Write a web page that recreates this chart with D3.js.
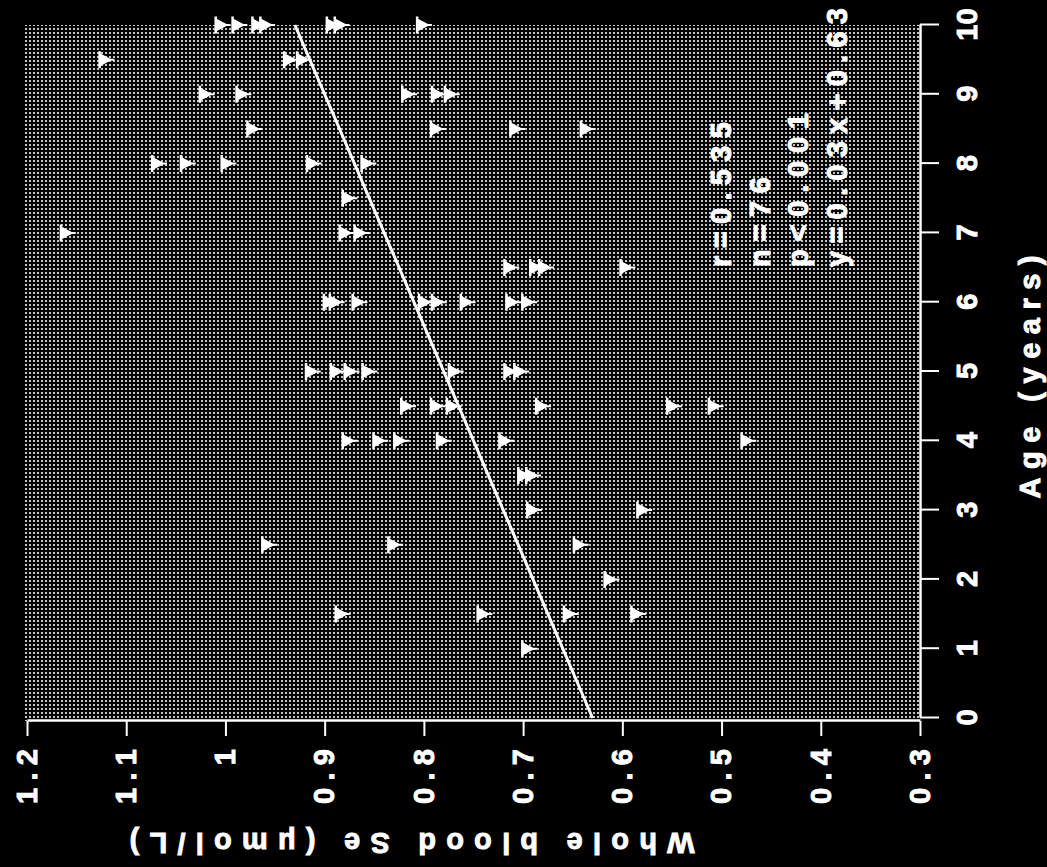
<!DOCTYPE html>
<html><head><meta charset="utf-8">
<script src="https://cdn.jsdelivr.net/npm/d3@7"></script>
<style>html,body{margin:0;padding:0;background:#000;overflow:hidden}</style>
</head><body>
<script>
// ---- data ----
const ageTicks = [0,1,2,3,4,5,6,7,8,9,10];
const seTicks = [1.2,1.1,1.0,0.9,0.8,0.7,0.6,0.5,0.4,0.3];
const seTickLabels = ["1.2","1.1","1","0.9","0.8","0.7","0.6","0.5","0.4","0.3"];
const age = [
  10,10,10,10,10,10,10,
  9.5,9.5,9.5,
  9,9,9,9,9,
  8.5,8.5,8.5,8.5,
  8,8,8,8,8,
  7.5,
  7,7,7,
  6.5,6.5,6.5,6.5,
  6,6,6,6,6,6,6,6,
  5,5,5,5,5,5,5,
  4.5,4.5,4.5,4.5,4.5,4.5,
  4,4,4,4,4,4,
  3.5,3.5,
  3,3,
  2.5,2.5,2.5,
  2,
  1.5,1.5,1.5,1.5,
  1
];
const se = [
  1.004,0.987,0.967,0.959,0.892,0.884,0.801,
  1.121,0.935,0.922,
  1.020,0.983,0.816,0.786,0.773,
  0.972,0.787,0.707,0.636,
  1.068,1.039,0.998,0.912,0.857,
  0.876,
  1.160,0.879,0.864,
  0.713,0.687,0.678,0.596,
  0.895,0.889,0.866,0.799,0.786,0.757,0.711,0.695,
  0.913,0.888,0.874,0.856,0.769,0.713,0.703,
  0.817,0.787,0.771,0.681,0.549,0.507,
  0.876,0.845,0.824,0.781,0.718,0.474,
  0.699,0.691,
  0.690,0.579,
  0.957,0.830,0.643,
  0.612,
  0.883,0.740,0.653,0.585,
  0.695
];
const fitSlope = 0.03;
const fitIntercept = 0.63;
const statLines = ["r=0.535","n=76","p<0.001","y=0.03x+0.63"];
const xTitle = "Age (years)";
const yTitle = "Whole blood Se (\u03bcmol/L)";

// ---- layout ----
const W = 1047, H = 867;
const FONT = "'Liberation Sans', Arial, Helvetica, sans-serif";
const svg = d3.select("body").append("svg").attr("width", W).attr("height", H);
svg.append("rect").attr("width", W).attr("height", H).attr("fill", "#000");

const defs = svg.append("defs");
const pat = defs.append("pattern").attr("id", "dots").attr("patternUnits", "userSpaceOnUse")
  .attr("width", 4).attr("height", 4);
pat.append("rect").attr("width", 4).attr("height", 4).attr("fill", "#050505");
pat.append("rect").attr("x", 1).attr("y", 1).attr("width", 2).attr("height", 2).attr("fill", "#c4c4c4");

// chart drawn in its natural orientation, then turned 90° counter-clockwise
const g = svg.append("g").attr("transform", `translate(0,${H}) rotate(-90)`);

const x = d3.scaleLinear().domain([0, 10]).range([149, 842]);
const y = d3.scaleLinear().domain([0.3, 1.2]).range([920, 27]);

g.append("rect").attr("x", 146).attr("y", 25).attr("width", 842 - 146).attr("height", 920 - 25)
  .attr("fill", "url(#dots)");

// regression line
const line = d3.line().x(d => x(d)).y(d => y(fitIntercept + fitSlope * d));
g.append("path").datum([0, 10]).attr("d", line).attr("fill", "none")
  .attr("stroke", "#fff").attr("stroke-width", 3);

// markers (downward triangles with a flat bar on top)
const marker = "M-8.5,-7H8.5V-4.5H6L1,5V9H-1V5L-6,-4.5H-8.5Z";
g.append("g").selectAll("path").data(age.map((a, i) => [a, se[i]])).join("path")
  .attr("d", marker)
  .attr("transform", d => `translate(${x(d[0])},${y(d[1])})`)
  .attr("fill", "#fff");

// axes
const xAxis = d3.axisBottom(x).tickValues(ageTicks).tickFormat(d3.format("d"))
  .tickSize(19).tickPadding(17).tickSizeOuter(0);
const gx = g.append("g").attr("transform", "translate(0,920)").call(xAxis);

const yAxis = d3.axisLeft(y).tickValues(seTicks).tickFormat((d, i) => seTickLabels[i])
  .tickSize(15).tickPadding(13).tickSizeOuter(0);
const gy = g.append("g").attr("transform", "translate(146,0)").call(yAxis);

function boldText(sel, size) {
  sel.attr("fill", "#fff").attr("stroke", "#fff").attr("stroke-width", 0.9)
    .attr("font-family", FONT).attr("font-weight", "bold").attr("font-size", size);
}
[gx, gy].forEach(ax => {
  ax.select(".domain").attr("stroke", "#fff").attr("stroke-width", 2.5);
  ax.selectAll(".tick line").attr("stroke", "#fff").attr("stroke-width", 2);
  boldText(ax.selectAll(".tick text"), 29);
});
gy.selectAll(".tick text").each(function(d, i) {
  const t = seTickLabels[i];
  if (t.length > 1) d3.select(this).attr("textLength", 55).attr("lengthAdjust", "spacing");
});

// axis titles
boldText(g.append("text").attr("x", 490).attr("y", 1040).attr("text-anchor", "middle")
  .attr("textLength", 243).attr("lengthAdjust", "spacing").text(xTitle), 29);

boldText(g.append("text").attr("transform", "translate(34,412) rotate(-90)").attr("text-anchor", "middle")
  .attr("textLength", 565).attr("lengthAdjust", "spacing").text(yTitle), 29);

// statistics
const statY = [731, 770, 808, 847];
const statLen = [145, 90, 154, 259];
boldText(g.append("g").selectAll("text").data(statLines).join("text")
  .attr("x", 600).attr("y", (d, i) => statY[i])
  .attr("textLength", (d, i) => statLen[i]).attr("lengthAdjust", "spacing")
  .text(d => d), 29);
</script>
</body></html>
